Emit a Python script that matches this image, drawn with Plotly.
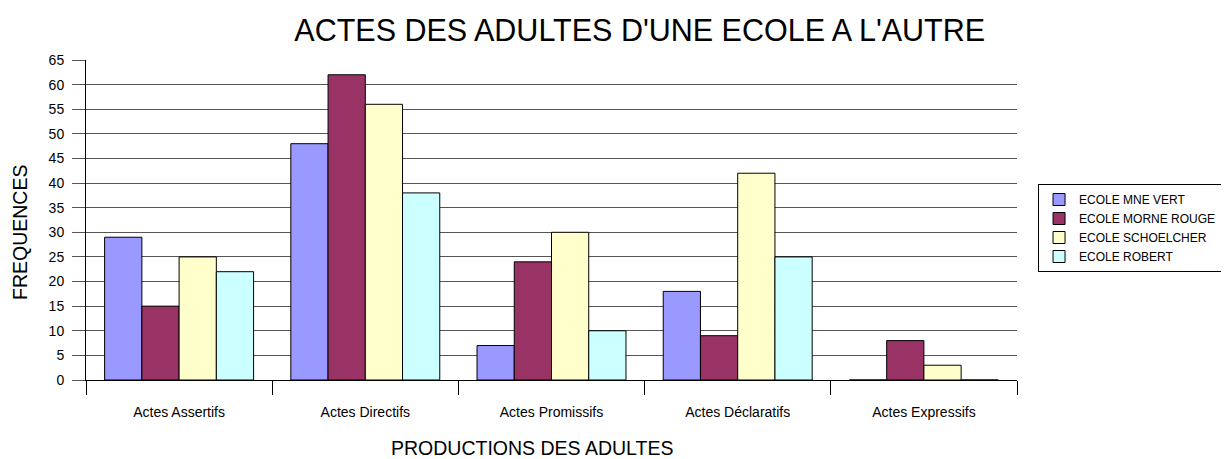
import plotly.graph_objects as go

categories = ["Actes Assertifs", "Actes Directifs", "Actes Promissifs", "Actes Déclaratifs", "Actes Expressifs"]
series_names = ["ECOLE MNE VERT", "ECOLE MORNE ROUGE", "ECOLE SCHOELCHER", "ECOLE ROBERT"]
mne_vert = [29, 48, 7, 18, 0]
morne_rouge = [15, 62, 24, 9, 8]
schoelcher = [25, 56, 30, 42, 3]
robert = [22, 38, 10, 25, 0]
y_ticks = list(range(0, 66, 5))

colors = ["#9999FF", "#993366", "#FFFFCC", "#CCFFFF"]
FONT = "Liberation Sans, Arial, sans-serif"

fig = go.Figure()
for name, vals, col in zip(series_names, [mne_vert, morne_rouge, schoelcher, robert], colors):
    fig.add_trace(go.Bar(
        name=name, x=categories, y=vals,
        marker=dict(color=col, line=dict(color="#000000", width=1)),
    ))

fig.update_layout(
    width=1229, height=459,
    barmode="group", bargap=0.2, bargroupgap=0,
    paper_bgcolor="white", plot_bgcolor="white",
    font=dict(family=FONT, color="black"),
    margin=dict(l=78, r=220, t=52, b=87, autoexpand=False),
    title=dict(text="ACTES DES ADULTES D'UNE ECOLE A L'AUTRE", x=0.514, xanchor="center",
               y=0.952, yanchor="middle", font=dict(size=30.5, family=FONT, color="black")),
    legend=dict(x=1.0226, y=0.6125, xanchor="left", yanchor="top",
                bordercolor="black", borderwidth=1, bgcolor="white",
                font=dict(size=12, family=FONT), tracegroupgap=0,
                itemwidth=30),
    showlegend=True,
    annotations=[
        dict(text="PRODUCTIONS DES ADULTES", xref="paper", yref="paper",
             x=0.479, y=-0.2125, xanchor="center", yanchor="middle", showarrow=False,
             font=dict(size=19.5, family=FONT, color="black")),
        dict(text="FREQUENCES", xref="paper", yref="paper", textangle=-90,
             x=-0.0709, y=0.4625, xanchor="center", yanchor="middle", showarrow=False,
             font=dict(size=19.5, family=FONT, color="black")),
    ],
)
fig.update_xaxes(
    type="category", showline=True, linecolor="black", linewidth=1,
    ticks="outside", tickson="boundaries", ticklen=14, tickcolor="black",
    tickfont=dict(size=14, family=FONT), ticklabelstandoff=19,
    showgrid=False,
)
fig.update_yaxes(
    range=[0, 65], tickvals=y_ticks, showline=True, linecolor="black", linewidth=1,
    ticks="outside", ticklen=13, tickcolor="#555555", ticklabelstandoff=5,
    tickfont=dict(size=14, family=FONT),
    showgrid=True, gridcolor="#555555", gridwidth=1, zeroline=False,
)
fig.write_html("out.html")
